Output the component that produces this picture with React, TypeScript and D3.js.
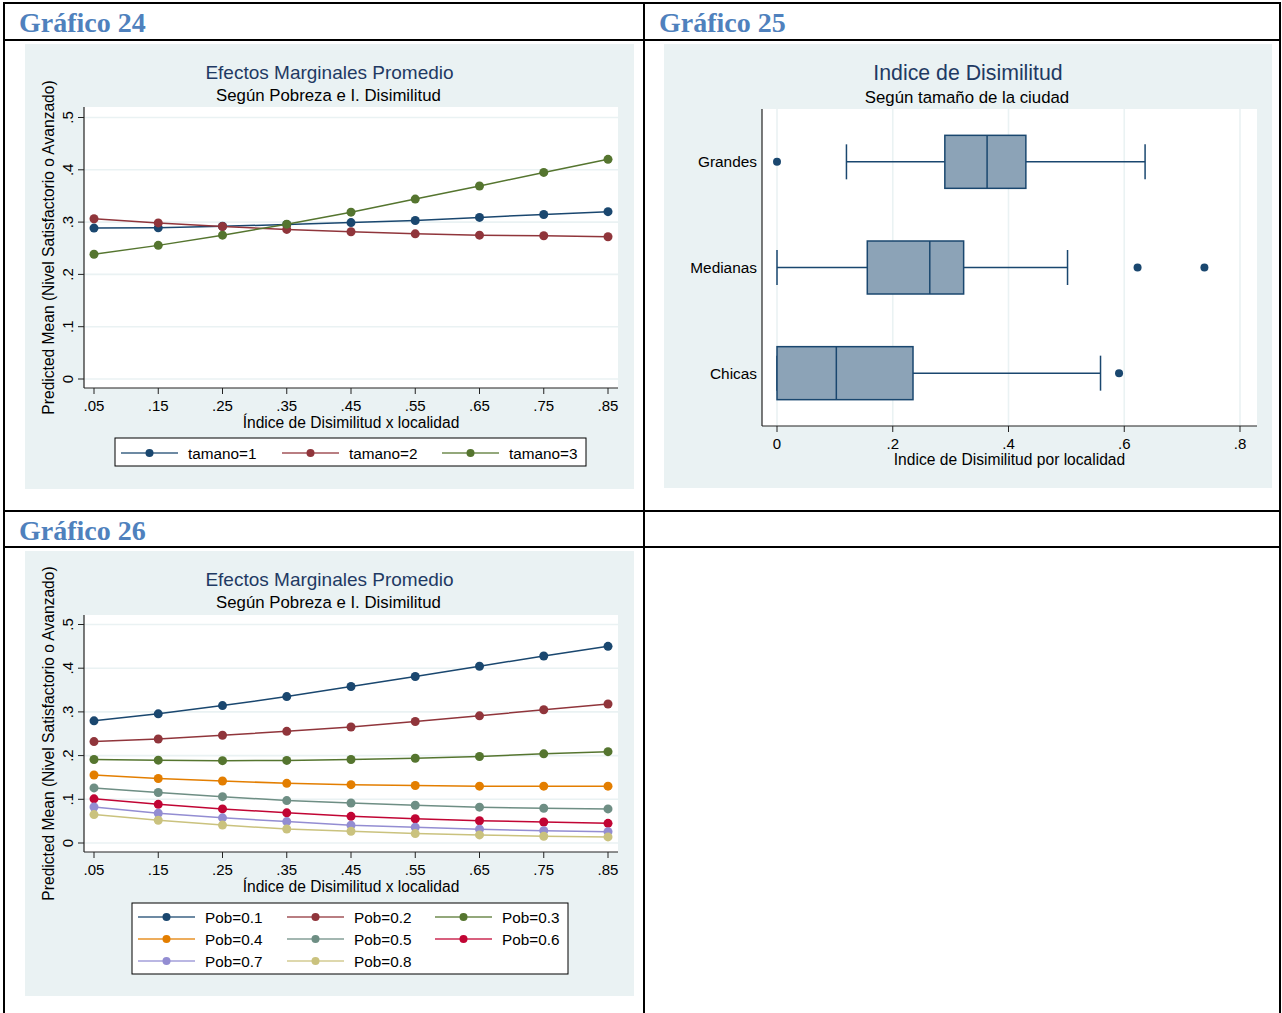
import React from 'react';
import * as d3 from 'd3';

// ---- shared axis values ----
const xTicks = [0.05, 0.15, 0.25, 0.35, 0.45, 0.55, 0.65, 0.75, 0.85];
const xTickLabels = ['.05', '.15', '.25', '.35', '.45', '.55', '.65', '.75', '.85'];
const yTicks = [0, 0.1, 0.2, 0.3, 0.4, 0.5];
const yTickLabels = ['0', '.1', '.2', '.3', '.4', '.5'];

// ---- Gráfico 24: by city size ----
const tamanoLabels = ['tamano=1', 'tamano=2', 'tamano=3'];
const tamano1 = [0.2885, 0.289, 0.292, 0.2955, 0.299, 0.303, 0.309, 0.3145, 0.32];
const tamano2 = [0.3065, 0.2985, 0.2915, 0.286, 0.2815, 0.2775, 0.275, 0.274, 0.272];
const tamano3 = [0.2385, 0.2555, 0.275, 0.296, 0.319, 0.344, 0.369, 0.395, 0.42];

// ---- Gráfico 26: by poverty level ----
const pobLabels = ['Pob=0.1', 'Pob=0.2', 'Pob=0.3', 'Pob=0.4', 'Pob=0.5', 'Pob=0.6', 'Pob=0.7', 'Pob=0.8'];
const pob1 = [0.2795, 0.2955, 0.3145, 0.335, 0.358, 0.381, 0.4045, 0.428, 0.45];
const pob2 = [0.232, 0.238, 0.2465, 0.2555, 0.2655, 0.278, 0.291, 0.305, 0.318];
const pob3 = [0.191, 0.1895, 0.1885, 0.189, 0.191, 0.194, 0.198, 0.204, 0.209];
const pob4 = [0.1555, 0.1475, 0.142, 0.1365, 0.1335, 0.1315, 0.13, 0.13, 0.13];
const pob5 = [0.126, 0.1155, 0.106, 0.097, 0.0915, 0.0865, 0.082, 0.0795, 0.078];
const pob6 = [0.101, 0.0885, 0.078, 0.069, 0.061, 0.0555, 0.051, 0.048, 0.045];
const pob7 = [0.0825, 0.068, 0.0575, 0.049, 0.0405, 0.036, 0.0315, 0.028, 0.026];
const pob8 = [0.065, 0.052, 0.041, 0.032, 0.027, 0.0215, 0.0185, 0.0155, 0.014];

// ---- Gráfico 25: box plot summaries ----
const boxCategories = ['Grandes', 'Medianas', 'Chicas'];
const boxLowWhisker = [0.12, 0, 0];
const boxQ1 = [0.29, 0.156, 0];
const boxMedian = [0.363, 0.264, 0.1025];
const boxQ3 = [0.43, 0.3225, 0.235];
const boxHighWhisker = [0.636, 0.502, 0.559];
const boxOutliers = [[0], [0.623, 0.7385], [0.591]];
const boxXTicks = [0, 0.2, 0.4, 0.6, 0.8];
const boxXTickLabels = ['0', '.2', '.4', '.6', '.8'];

// Stata s2color palette
const palette = ['#1a476f', '#90353b', '#55752f', '#e37e00', '#6e8e84', '#c10534', '#938dd2', '#cac27e'];

const SANS = '"Liberation Sans", Arial, Helvetica, sans-serif';
const SERIF = '"Liberation Serif", "DejaVu Serif", serif';
const BG = '#eaf2f3';
const TITLE = '#1f3a63';

type Series = { label: string; values: number[]; color: string };

type LineChartProps = {
  panel: { x: number; y: number; w: number; h: number };
  plotTop: number;
  plotBottom: number;
  yZero: number;
  yHalf: number;
  series: Series[];
  legend: { x: number; y: number; w: number; h: number; cols: number[]; rows: number[] };
};

function LineChart({ panel, plotTop, plotBottom, yZero, yHalf, series, legend }: LineChartProps) {
  const plotLeft = 84;
  const plotRight = 618;
  const x = d3.scaleLinear().domain([0.05, 0.85]).range([94, 608]);
  const y = d3.scaleLinear().domain([0, 0.5]).range([yZero, yHalf]);
  const line = d3
    .line<number>()
    .x((_, i) => x(xTicks[i]))
    .y((d) => y(d));
  const cx = panel.x + panel.w / 2;
  const midY = (plotTop + plotBottom) / 2;
  return (
    <g>
      <rect x={panel.x} y={panel.y} width={panel.w} height={panel.h} fill={BG} />
      <text x={cx} y={panel.y + 35} textAnchor="middle" fontFamily={SANS} fontSize={19} fill={TITLE}>
        Efectos Marginales Promedio
      </text>
      <text x={cx - 1} y={panel.y + 57} textAnchor="middle" fontFamily={SANS} fontSize={16.8} fill="#000">
        Según Pobreza e I. Disimilitud
      </text>
      <rect x={plotLeft} y={plotTop} width={plotRight - plotLeft} height={plotBottom - plotTop} fill="#fff" />
      {yTicks.map((t) => (
        <line key={'g' + t} x1={plotLeft} x2={plotRight} y1={y(t)} y2={y(t)} stroke={BG} strokeWidth={1.6} />
      ))}
      {/* axes */}
      <line x1={plotLeft} x2={plotLeft} y1={plotTop} y2={plotBottom} stroke="#222" strokeWidth={1.2} />
      <line x1={plotLeft} x2={plotRight} y1={plotBottom} y2={plotBottom} stroke="#222" strokeWidth={1.2} />
      {yTicks.map((t, i) => (
        <g key={'yt' + t}>
          <line x1={plotLeft - 6} x2={plotLeft} y1={y(t)} y2={y(t)} stroke="#222" strokeWidth={1} />
          <text
            transform={`translate(${plotLeft - 11},${y(t)}) rotate(-90)`}
            textAnchor="middle"
            fontFamily={SANS}
            fontSize={15}
            fill="#000"
          >
            {yTickLabels[i]}
          </text>
        </g>
      ))}
      {xTicks.map((t, i) => (
        <g key={'xt' + t}>
          <line x1={x(t)} x2={x(t)} y1={plotBottom} y2={plotBottom + 6} stroke="#222" strokeWidth={1} />
          <text x={x(t)} y={plotBottom + 23} textAnchor="middle" fontFamily={SANS} fontSize={15} fill="#000">
            {xTickLabels[i]}
          </text>
        </g>
      ))}
      <text
        x={(plotLeft + plotRight) / 2}
        y={plotBottom + 40}
        textAnchor="middle"
        fontFamily={SANS}
        fontSize={15.6}
        fill="#000"
      >
        Índice de Disimilitud x localidad
      </text>
      <text
        transform={`translate(${plotLeft - 30},${midY}) rotate(-90)`}
        textAnchor="middle"
        fontFamily={SANS}
        fontSize={15.6}
        fill="#000"
      >
        Predicted Mean (Nivel Satisfactorio o Avanzado)
      </text>
      {/* series */}
      {series.map((s) => (
        <g key={s.label}>
          <path d={line(s.values) || ''} fill="none" stroke={s.color} strokeWidth={1.5} />
          {s.values.map((v, i) => (
            <circle key={i} cx={x(xTicks[i])} cy={y(v)} r={4.5} fill={s.color} />
          ))}
        </g>
      ))}
      {/* legend */}
      <rect x={legend.x} y={legend.y} width={legend.w} height={legend.h} fill="#fff" stroke="#000" strokeWidth={1} />
      {series.map((s, i) => {
        const col = legend.cols[i % legend.cols.length];
        const row = legend.rows[Math.floor(i / legend.cols.length)];
        return (
          <g key={'lg' + s.label}>
            <line x1={col} x2={col + 57} y1={row} y2={row} stroke={s.color} strokeWidth={1.5} strokeOpacity={0.85} />
            <circle cx={col + 28.5} cy={row} r={4} fill={s.color} />
            <text x={col + 67} y={row + 5.5} fontFamily={SANS} fontSize={15.3} fill="#000">
              {s.label}
            </text>
          </g>
        );
      })}
    </g>
  );
}

function BoxChart() {
  const panel = { x: 664, y: 44, w: 608, h: 444 };
  const plotLeft = 762;
  const plotRight = 1257;
  const plotTop = 109;
  const plotBottom = 426;
  const x = d3.scaleLinear().domain([0, 0.8]).range([777, 1240]);
  const band = d3.scaleBand<string>().domain(boxCategories).range([plotTop, plotBottom]).padding(0);
  const boxH = 53;
  const capH = 35;
  const stroke = '#1a476f';
  const fill = '#8ca3b7';
  return (
    <g>
      <rect x={panel.x} y={panel.y} width={panel.w} height={panel.h} fill={BG} />
      <text x={968} y={panel.y + 36} textAnchor="middle" fontFamily={SANS} fontSize={21.3} fill={TITLE}>
        Indice de Disimilitud
      </text>
      <text x={967} y={panel.y + 59} textAnchor="middle" fontFamily={SANS} fontSize={16.8} fill="#000">
        Según tamaño de la ciudad
      </text>
      <rect x={plotLeft} y={plotTop} width={plotRight - plotLeft} height={plotBottom - plotTop} fill="#fff" />
      {boxXTicks.map((t) => (
        <line key={'g' + t} x1={x(t)} x2={x(t)} y1={plotTop} y2={plotBottom} stroke={BG} strokeWidth={1.6} />
      ))}
      <line x1={plotLeft} x2={plotLeft} y1={plotTop} y2={plotBottom} stroke="#222" strokeWidth={1.2} />
      <line x1={plotLeft} x2={plotRight} y1={plotBottom} y2={plotBottom} stroke="#222" strokeWidth={1.2} />
      {boxXTicks.map((t, i) => (
        <g key={'xt' + t}>
          <line x1={x(t)} x2={x(t)} y1={plotBottom} y2={plotBottom + 6} stroke="#222" strokeWidth={1} />
          <text x={x(t)} y={plotBottom + 23} textAnchor="middle" fontFamily={SANS} fontSize={15} fill="#000">
            {boxXTickLabels[i]}
          </text>
        </g>
      ))}
      <text
        x={(plotLeft + plotRight) / 2}
        y={plotBottom + 39}
        textAnchor="middle"
        fontFamily={SANS}
        fontSize={15.6}
        fill="#000"
      >
        Indice de Disimilitud por localidad
      </text>
      {boxCategories.map((c, i) => {
        const cy = (band(c) as number) + band.bandwidth() / 2;
        return (
          <g key={c}>
            <text x={plotLeft - 5} y={cy + 5.5} textAnchor="end" fontFamily={SANS} fontSize={15.4} fill="#000">
              {c}
            </text>
            {/* whiskers */}
            <line x1={x(boxLowWhisker[i])} x2={x(boxQ1[i])} y1={cy} y2={cy} stroke={stroke} strokeWidth={1.5} />
            <line x1={x(boxQ3[i])} x2={x(boxHighWhisker[i])} y1={cy} y2={cy} stroke={stroke} strokeWidth={1.5} />
            <line
              x1={x(boxLowWhisker[i])}
              x2={x(boxLowWhisker[i])}
              y1={cy - capH / 2}
              y2={cy + capH / 2}
              stroke={stroke}
              strokeWidth={1.5}
            />
            <line
              x1={x(boxHighWhisker[i])}
              x2={x(boxHighWhisker[i])}
              y1={cy - capH / 2}
              y2={cy + capH / 2}
              stroke={stroke}
              strokeWidth={1.5}
            />
            {/* box */}
            <rect
              x={x(boxQ1[i])}
              y={cy - boxH / 2}
              width={x(boxQ3[i]) - x(boxQ1[i])}
              height={boxH}
              fill={fill}
              stroke={stroke}
              strokeWidth={1.5}
            />
            <line
              x1={x(boxMedian[i])}
              x2={x(boxMedian[i])}
              y1={cy - boxH / 2}
              y2={cy + boxH / 2}
              stroke={stroke}
              strokeWidth={1.5}
            />
            {boxOutliers[i].map((o, k) => (
              <circle key={k} cx={x(o)} cy={cy} r={4} fill={stroke} />
            ))}
          </g>
        );
      })}
    </g>
  );
}

export default function App() {
  const s24: Series[] = [tamano1, tamano2, tamano3].map((v, i) => ({
    label: tamanoLabels[i],
    values: v,
    color: palette[i],
  }));
  const s26: Series[] = [pob1, pob2, pob3, pob4, pob5, pob6, pob7, pob8].map((v, i) => ({
    label: pobLabels[i],
    values: v,
    color: palette[i],
  }));
  const headerStyle = { fontFamily: SERIF, fontWeight: 700, fontSize: 28, fill: '#4f81bd' } as const;
  return (
    <div style={{ position: 'absolute', left: 0, top: 0 }}>
      <svg width={1282} height={1013} style={{ display: 'block', background: '#fff' }}>
        {/* table headers */}
        <text x={19} y={32} {...headerStyle}>
          Gráfico 24
        </text>
        <text x={659} y={32} {...headerStyle}>
          Gráfico 25
        </text>
        <text x={19} y={540} {...headerStyle}>
          Gráfico 26
        </text>

        <LineChart
          panel={{ x: 25, y: 44, w: 609, h: 445 }}
          plotTop={107}
          plotBottom={388}
          yZero={379}
          yHalf={117.5}
          series={s24}
          legend={{ x: 115, y: 438, w: 471, h: 28, cols: [121, 282, 442], rows: [453] }}
        />
        <BoxChart />
        <LineChart
          panel={{ x: 25, y: 551, w: 609, h: 445 }}
          plotTop={615}
          plotBottom={852}
          yZero={843}
          yHalf={624.5}
          series={s26}
          legend={{ x: 132, y: 903, w: 436, h: 71, cols: [138, 287, 435], rows: [917, 939, 961] }}
        />

        {/* table grid */}
        <g stroke="#000" strokeWidth={2} fill="none">
          <line x1={4} x2={4} y1={2} y2={1013} />
          <line x1={1280} x2={1280} y1={2} y2={1013} />
          <line x1={644} x2={644} y1={2} y2={1013} />
          <line x1={3} x2={1281} y1={3} y2={3} />
          <line x1={3} x2={1281} y1={40} y2={40} />
          <line x1={3} x2={1281} y1={511} y2={511} />
          <line x1={3} x2={1281} y1={547} y2={547} />
        </g>
      </svg>
    </div>
  );
}
